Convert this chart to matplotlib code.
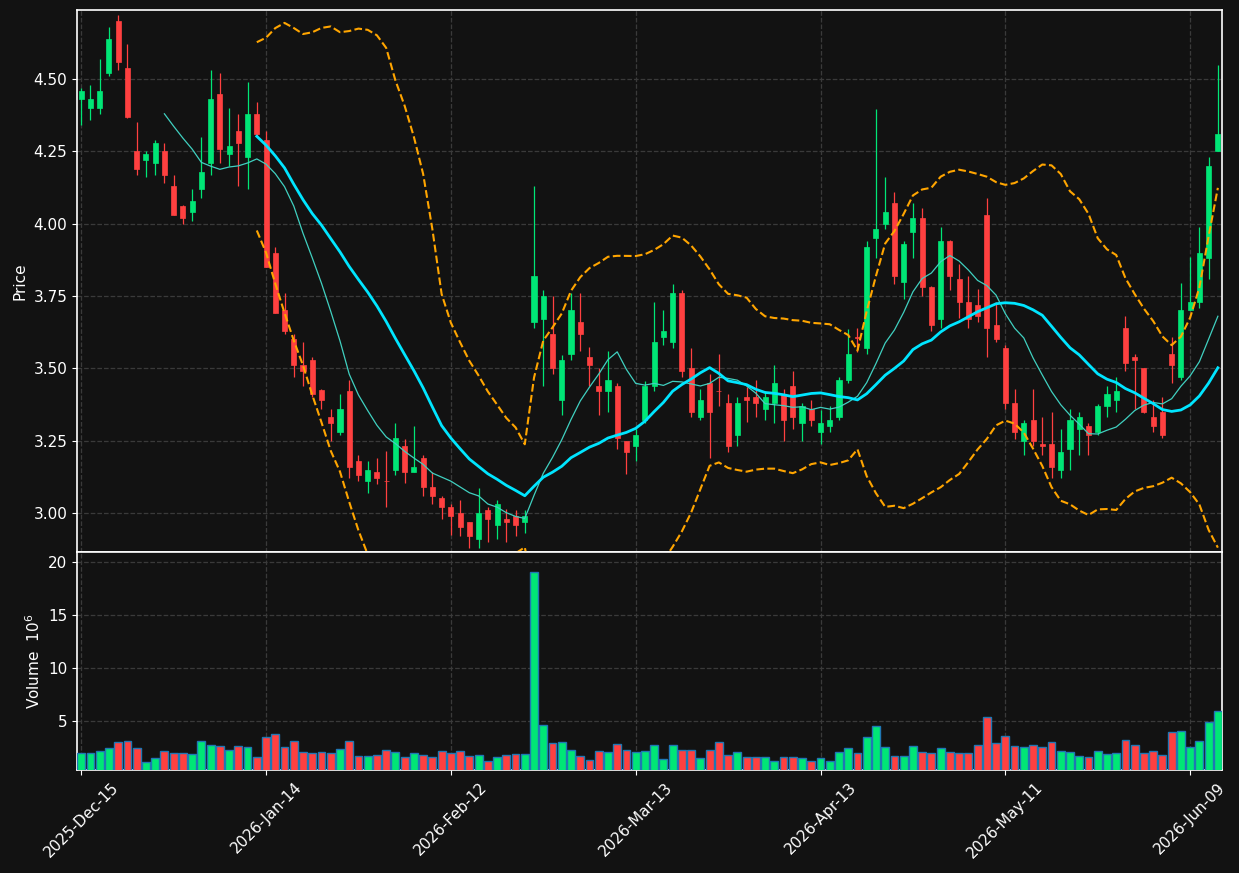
import matplotlib
matplotlib.use('Agg')
import matplotlib.pyplot as plt
import numpy as np
import pandas as pd

# trading days (NYSE holidays skipped)
holidays = ['2025-12-25', '2026-01-01', '2026-01-19', '2026-02-16', '2026-04-03', '2026-05-25']
dates = pd.bdate_range('2025-12-15', periods=124, freq='C', holidays=holidays)

opens = [4.43, 4.40, 4.40, 4.52, 4.70, 4.54, 4.25, 4.22, 4.21, 4.25,
         4.13, 4.06, 4.04, 4.12, 4.21, 4.45, 4.24, 4.32, 4.23, 4.38,
         4.29, 3.90, 3.70, 3.60, 3.51, 3.53, 3.425, 3.33, 3.28, 3.42,
         3.18, 3.11, 3.14, 3.111, 3.15, 3.23, 3.14, 3.19, 3.09, 3.05,
         3.02, 3.00, 2.97, 2.91, 3.01, 2.96, 2.98, 2.99, 2.97, 3.66,
         3.67, 3.62, 3.39, 3.55, 3.66, 3.54, 3.44, 3.42, 3.44, 3.25,
         3.23, 3.32, 3.44, 3.61, 3.59, 3.76, 3.50, 3.33, 3.45, 3.423,
         3.38, 3.27, 3.40, 3.40, 3.36, 3.38, 3.41, 3.44, 3.31, 3.36,
         3.28, 3.30, 3.33, 3.46, 3.61, 3.57, 3.95, 4.00, 4.07, 3.80,
         3.97, 4.02, 3.78, 3.67, 3.94, 3.81, 3.73, 3.72, 4.03, 3.65,
         3.57, 3.38, 3.25, 3.32, 3.24, 3.24, 3.15, 3.22, 3.29, 3.30,
         3.28, 3.37, 3.39, 3.64, 3.54, 3.50, 3.33, 3.35, 3.55, 3.47,
         3.70, 3.73, 3.88, 4.25]
highs = [4.47, 4.48, 4.57, 4.68, 4.72, 4.62, 4.35, 4.25, 4.29, 4.28,
         4.17, 4.065, 4.12, 4.30, 4.53, 4.52, 4.40, 4.38, 4.49, 4.42,
         4.32, 3.92, 3.76, 3.62, 3.59, 3.54, 3.43, 3.36, 3.41, 3.46,
         3.20, 3.18, 3.19, 3.215, 3.31, 3.255, 3.30, 3.20, 3.14, 3.06,
         3.03, 3.045, 2.97, 3.085, 3.02, 3.045, 3.015, 3.01, 3.01, 4.13,
         3.77, 3.75, 3.545, 3.76, 3.76, 3.575, 3.50, 3.56, 3.45, 3.25,
         3.29, 3.455, 3.73, 3.70, 3.79, 3.77, 3.57, 3.43, 3.48, 3.55,
         3.41, 3.40, 3.435, 3.46, 3.42, 3.51, 3.43, 3.49, 3.38, 3.39,
         3.355, 3.37, 3.47, 3.635, 3.64, 3.94, 4.395, 4.16, 4.11, 3.94,
         4.07, 4.055, 3.785, 3.99, 3.945, 3.86, 3.82, 3.775, 4.09, 3.73,
         3.58, 3.43, 3.32, 3.43, 3.33, 3.35, 3.29, 3.36, 3.35, 3.31,
         3.375, 3.44, 3.47, 3.68, 3.55, 3.50, 3.39, 3.40, 3.61, 3.795,
         3.885, 3.99, 4.23, 4.55]
lows = [4.34, 4.36, 4.38, 4.51, 4.53, 4.365, 4.17, 4.16, 4.17, 4.14,
        4.03, 4.00, 4.01, 4.09, 4.17, 4.21, 4.20, 4.13, 4.12, 4.30,
        3.85, 3.69, 3.62, 3.47, 3.44, 3.40, 3.36, 3.25, 3.27, 3.12,
        3.11, 3.07, 3.10, 3.02, 3.13, 3.105, 3.14, 3.06, 3.03, 2.98,
        2.925, 2.92, 2.88, 2.88, 2.90, 2.91, 2.90, 2.92, 2.93, 3.64,
        3.44, 3.48, 3.34, 3.53, 3.56, 3.44, 3.34, 3.35, 3.22, 3.135,
        3.18, 3.31, 3.42, 3.58, 3.57, 3.47, 3.33, 3.32, 3.19, 3.37,
        3.21, 3.23, 3.315, 3.33, 3.32, 3.31, 3.25, 3.29, 3.25, 3.30,
        3.24, 3.28, 3.32, 3.45, 3.555, 3.55, 3.88, 3.98, 3.79, 3.74,
        3.88, 3.75, 3.63, 3.64, 3.77, 3.675, 3.64, 3.66, 3.54, 3.59,
        3.36, 3.255, 3.20, 3.23, 3.20, 3.12, 3.12, 3.15, 3.20, 3.20,
        3.27, 3.33, 3.35, 3.49, 3.36, 3.345, 3.28, 3.26, 3.45, 3.46,
        3.70, 3.71, 3.81, 4.25]
closes = [4.46, 4.43, 4.46, 4.64, 4.56, 4.37, 4.19, 4.24, 4.28, 4.17,
          4.03, 4.02, 4.08, 4.18, 4.43, 4.26, 4.27, 4.28, 4.38, 4.31,
          3.85, 3.69, 3.63, 3.51, 3.49, 3.41, 3.39, 3.31, 3.36, 3.16,
          3.13, 3.15, 3.12, 3.109, 3.26, 3.14, 3.16, 3.09, 3.06, 3.02,
          2.99, 2.95, 2.92, 3.00, 2.98, 3.03, 2.97, 2.96, 2.99, 3.82,
          3.75, 3.50, 3.53, 3.70, 3.62, 3.51, 3.42, 3.46, 3.26, 3.21,
          3.27, 3.44, 3.59, 3.63, 3.76, 3.49, 3.35, 3.39, 3.35, 3.421,
          3.23, 3.38, 3.39, 3.38, 3.40, 3.45, 3.32, 3.33, 3.37, 3.32,
          3.31, 3.32, 3.46, 3.55, 3.605, 3.92, 3.98, 4.04, 3.82, 3.93,
          4.02, 3.78, 3.65, 3.94, 3.82, 3.73, 3.67, 3.68, 3.64, 3.60,
          3.38, 3.28, 3.31, 3.25, 3.23, 3.16, 3.21, 3.32, 3.33, 3.27,
          3.37, 3.41, 3.42, 3.52, 3.53, 3.35, 3.30, 3.27, 3.51, 3.70,
          3.73, 3.90, 4.20, 4.31]
# volume in millions of shares
volumes = [1.96, 1.96, 2.15, 2.40, 3.00, 3.10, 2.40, 1.10, 1.46, 2.15,
           1.96, 1.96, 1.87, 3.10, 2.72, 2.63, 2.25, 2.63, 2.53, 1.58,
           3.48, 3.77, 2.53, 3.10, 2.06, 1.96, 2.06, 1.96, 2.34, 3.10,
           1.68, 1.68, 1.77, 2.25, 2.06, 1.58, 1.96, 1.77, 1.58, 2.15,
           1.96, 2.15, 1.68, 1.77, 1.20, 1.58, 1.77, 1.87, 1.87, 19.05,
           4.62, 2.91, 3.00, 2.25, 1.68, 1.30, 2.15, 2.06, 2.82, 2.25,
           2.06, 2.15, 2.72, 1.39, 2.72, 2.25, 2.25, 1.49, 2.25, 3.00,
           1.77, 2.06, 1.58, 1.58, 1.58, 1.20, 1.58, 1.58, 1.49, 1.20,
           1.49, 1.20, 2.06, 2.44, 1.96, 3.48, 4.53, 2.53, 1.68, 1.68,
           2.63, 2.06, 1.96, 2.44, 2.06, 1.96, 1.96, 2.72, 5.38, 2.91,
           3.58, 2.63, 2.53, 2.72, 2.53, 3.00, 2.15, 2.06, 1.68, 1.58,
           2.15, 1.87, 1.96, 3.20, 2.72, 1.96, 2.15, 1.77, 3.96, 4.05,
           2.53, 3.10, 4.90, 5.95]

df = pd.DataFrame({'Open': opens, 'High': highs, 'Low': lows,
                   'Close': closes, 'Volume': volumes}, index=dates)
ma10 = df['Close'].rolling(10).mean()
ma20 = df['Close'].rolling(20).mean()
sd20 = df['Close'].rolling(20).std(ddof=0)
bb_up = ma20 + 2 * sd20
bb_lo = ma20 - 2 * sd20

bg = '#121212'
up_col = '#00e676'
dn_col = '#ff4040'
grid_col = '#3a3a3a'

x = np.arange(len(df))
o = df['Open'].values
c = df['Close'].values
is_up = c >= o
cols = np.where(is_up, up_col, dn_col)

fig = plt.figure(figsize=(12.39, 8.73), dpi=100, facecolor=bg)
ax = fig.add_axes([0.0622, 0.3677, 0.9241, 0.6209], facecolor=bg)
axv = fig.add_axes([0.0622, 0.1180, 0.9241, 0.2497], facecolor=bg, sharex=ax)

# candles
ax.vlines(x, df['Low'], df['High'], colors=cols, linewidth=0.9, zorder=2)
body = np.maximum(np.abs(c - o), 0.002)
ax.bar(x, body, bottom=np.minimum(o, c), width=0.55, color=cols,
       edgecolor=cols, linewidth=0.5, zorder=3)

# moving averages and bands
ax.plot(x, ma10, color='#40d0c0', linewidth=0.9, zorder=4)
ax.plot(x, ma20, color='#00e5ff', linewidth=2.0, zorder=4)
ax.plot(x, bb_up, color='#ffa500', linewidth=1.5, linestyle='--', zorder=4)
ax.plot(x, bb_lo, color='#ffa500', linewidth=1.5, linestyle='--', zorder=4)

# volume
axv.bar(x, df['Volume'], width=0.85, color=cols, edgecolor='#1f77b4',
        linewidth=1.0, zorder=3)

ax.set_xlim(-0.45, len(df) - 0.55)
ax.set_ylim(2.865, 4.739)
axv.set_ylim(0.3 * min(volumes), 1.1 * max(volumes))

ax.set_yticks(np.arange(3.0, 4.51, 0.25))
ax.set_yticklabels(['%.2f' % v for v in np.arange(3.0, 4.51, 0.25)])
axv.set_yticks([5, 10, 15, 20])

tick_idx = list(range(0, len(df), 20))
axv.set_xticks(tick_idx)
axv.set_xticklabels([dates[i].strftime('%Y-%b-%d') for i in tick_idx],
                    rotation=45, ha='center')
plt.setp(ax.get_xticklabels(), visible=False)

for a in (ax, axv):
    a.grid(True, color=grid_col, linestyle='--', linewidth=0.9)
    a.set_axisbelow(True)
    a.tick_params(colors='white', labelsize=11)
    for s in a.spines.values():
        s.set_color('white')
        s.set_linewidth(1.2)
ax.tick_params(axis='x', length=0)

ax.set_ylabel('Price', color='white', fontsize=11)
axv.set_ylabel('Volume  $10^{6}$', color='white', fontsize=11)

fig.savefig('out.png', dpi=100, facecolor=bg)
